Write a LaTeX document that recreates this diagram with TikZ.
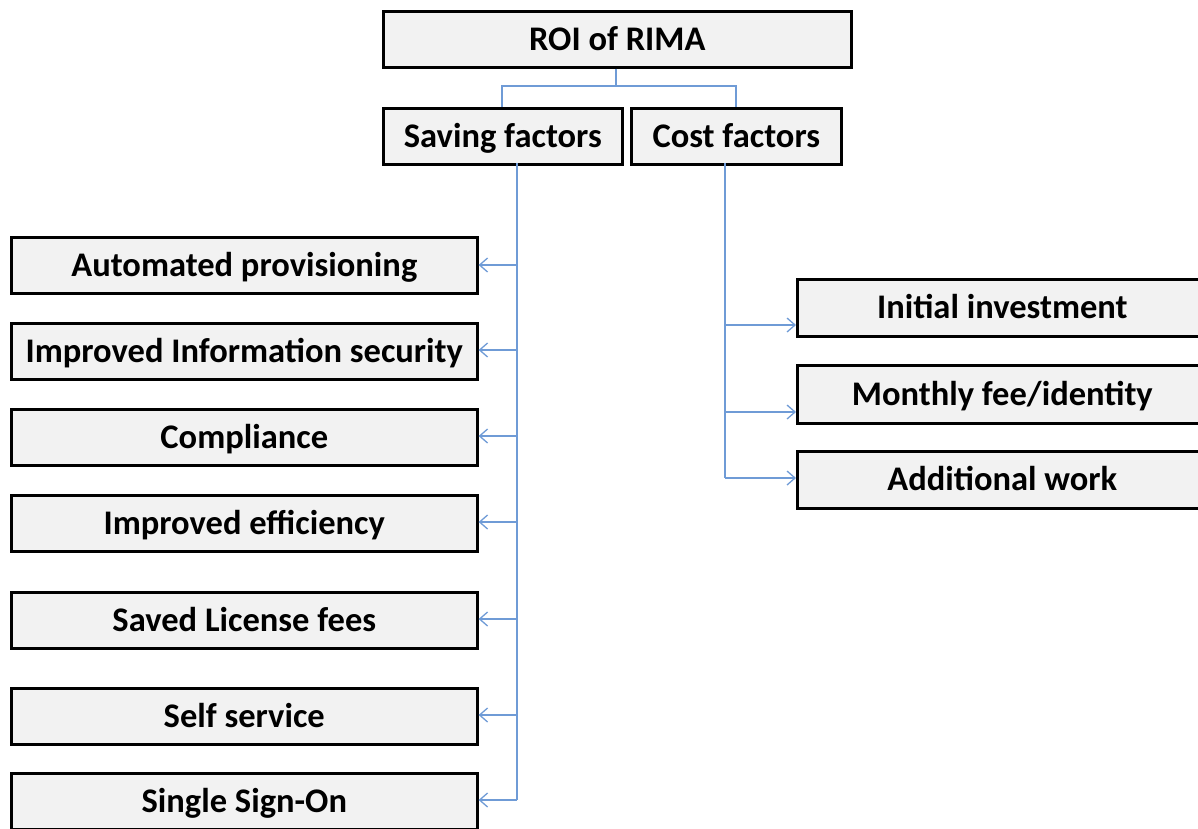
\documentclass[tikz,border=0pt]{standalone}
\usepackage{fontspec}
\setmainfont{Carlito}
\usetikzlibrary{arrows.meta}
\definecolor{boxfill}{HTML}{F2F2F2}
\definecolor{linkblue}{HTML}{6F9BD6}
\tikzset{
  factor/.style={draw=black, line width=2.6pt, fill=boxfill, font=\bfseries\fontsize{34.5}{36}\selectfont,
    text height=29pt, text depth=7pt, inner sep=0pt, anchor=north west},
  link/.style={draw=linkblue, line width=1.3pt},
  arr/.style={link, -{Straight Barb[length=8pt, width=14pt, line width=1.3pt]}},
}
\begin{document}
\begin{tikzpicture}[x=1pt, y=-1pt]
\useasboundingbox (0,0) rectangle (1198,828);
\clip (0,0) rectangle (1198,828);
% boxes: top-left corner, size
\node[factor, minimum width=468pt, minimum height=56pt] (roi) at (382,10) {ROI of RIMA};
\node[factor, minimum width=239pt, minimum height=56pt] (save) at (382,107) {Saving factors};
\node[factor, minimum width=210pt, minimum height=56pt] (cost) at (630,107) {Cost factors};
% saving factors
\node[factor, minimum width=466pt, minimum height=56pt] (s1) at (10,236) {Automated provisioning};
\node[factor, minimum width=466pt, minimum height=56pt] (s2) at (10,322) {Improved Information security};
\node[factor, minimum width=466pt, minimum height=56pt] (s3) at (10,408) {Compliance};
\node[factor, minimum width=466pt, minimum height=56pt] (s4) at (10,494) {Improved efficiency};
\node[factor, minimum width=466pt, minimum height=56pt] (s5) at (10,591) {Saved License fees};
\node[factor, minimum width=466pt, minimum height=56pt] (s6) at (10,687) {Self service};
\node[factor, minimum width=466pt, minimum height=56pt] (s7) at (10,772) {Single Sign-On};
% cost factors
\node[factor, minimum width=410pt, minimum height=57pt] (c1) at (796,278) {Initial investment};
\node[factor, minimum width=410pt, minimum height=58pt] (c2) at (796,364) {Monthly fee/identity};
\node[factor, minimum width=410pt, minimum height=57pt] (c3) at (796,450) {Additional work};
% root to the two groups
\coordinate (fork) at (616,86);
\draw[link] (roi.south -| fork) -- (fork);
\draw[link] (save.north -| 502,0) |- (fork) -| (cost.north -| 736,0);
% saving trunk
\coordinate (st) at (517,163);
\draw[link] (st) -- (517,800);
\foreach \n/\y in {s1/265, s2/350, s3/436, s4/522, s5/619, s6/715, s7/800}
  \draw[arr] (517,\y) -- (\n.east |- 0,\y);
% cost trunk
\coordinate (ct) at (725,163);
\draw[link] (ct) -- (725,478);
\foreach \n/\y in {c1/325, c2/412, c3/478}
  \draw[arr] (725,\y) -- (\n.west |- 0,\y);
\end{tikzpicture}
\end{document}
